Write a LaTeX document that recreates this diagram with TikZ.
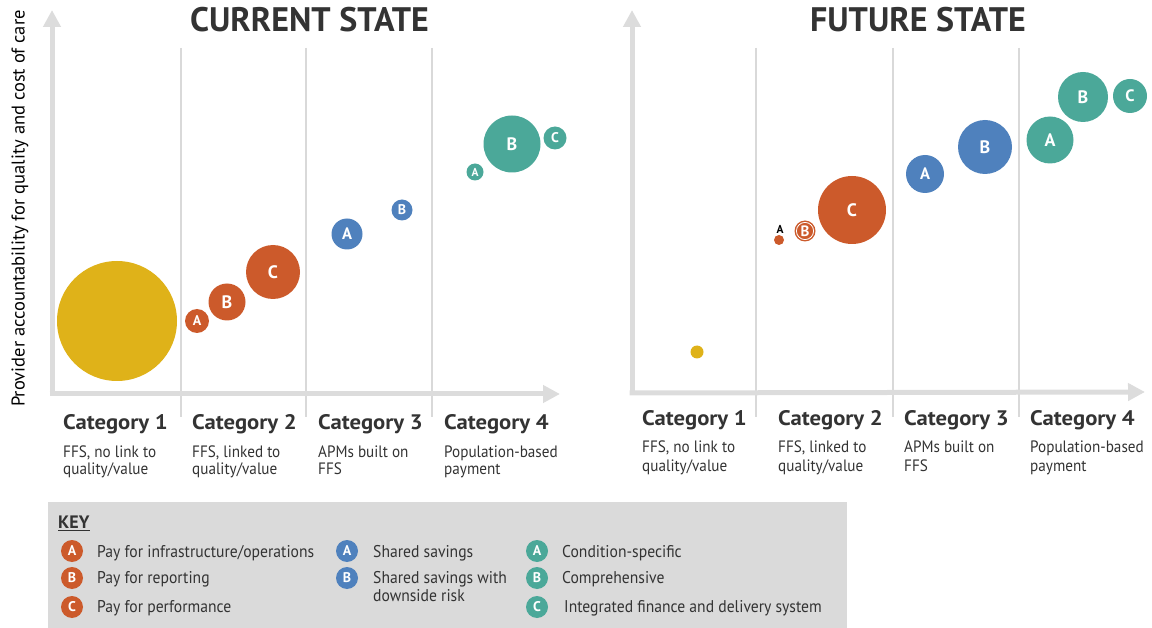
\documentclass[tikz,border=0pt]{standalone}
\usepackage{fontspec}
\setmainfont{PT Sans}[FakeStretch=0.92]
\newfontfamily\plainfont{PT Sans}
\newfontfamily\catfont{PT Sans}[FakeStretch=1.08]
\usetikzlibrary{arrows.meta}
\definecolor{cyellow}{HTML}{DFB219}
\definecolor{corange}{HTML}{CC5A2B}
\definecolor{cblue}{HTML}{4F81BD}
\definecolor{cteal}{HTML}{4BA899}
\definecolor{axisgray}{HTML}{DCDCDC}
\definecolor{gridgray}{HTML}{D9D9D9}
\definecolor{keybg}{HTML}{DADADA}
\definecolor{txt}{HTML}{333333}
\newcommand\fs[1]{\fontsize{#1}{#1}\selectfont}
\begin{document}
\begin{tikzpicture}[x=1pt,y=-1pt,
  bub/.style={circle,inner sep=0pt,text=white,font=\plainfont\bfseries\fs{18}},
  bubm/.style={bub,font=\plainfont\bfseries\fs{16.5}},
  bubs/.style={bub,font=\plainfont\bfseries\fs{14}},
  bubxs/.style={bub,font=\plainfont\bfseries\fs{11.5}},
  axisline/.style={axisgray,line width=5pt,-{Triangle[width=17pt,length=17pt]}},
  gridline/.style={gridgray,line width=1.3pt},
  title/.style={text=txt,font=\plainfont\bfseries\fs{34},anchor=base,inner sep=0pt},
  cat/.style={text=txt,font=\catfont\bfseries\fs{21},anchor=base west,inner sep=0pt},
  desc/.style={text=txt,font=\fs{16.5},anchor=base west,inner sep=0pt},
  keytxt/.style={text=txt,font=\fs{17},anchor=base west,inner sep=0pt},
  keybub/.style={circle,inner sep=0pt,minimum size=22pt,text=white,font=\plainfont\bfseries\fs{14}}]
\useasboundingbox (0,0) rectangle (1152,628);

% ---------- LEFT PANEL ----------
\foreach \gx/\nm in {181/lg1,306/lg2,432/lg3}{
  \coordinate (\nm t) at (\gx,48); \coordinate (\nm b) at (\gx,417);
  \draw[gridline] (\nm t) -- (\nm b);}
\coordinate (lo) at (52,394);
\coordinate (lytip) at (52,10);
\coordinate (lxtip) at (560,394);
\coordinate (lxs) at (49.5,394);
\draw[axisline] (lo) -- (lytip);
\draw[axisline] (lxs) -- (lxtip);

\node[title] (ltitle) at (309.5,32) {CURRENT STATE};
\node[text=black,font=\plainfont\fs{18.5},rotate=90] (ylab) at (20,208.5) {Provider accountability for quality and cost of care};

\node[circle,fill=cyellow,minimum size=120pt,inner sep=0pt] (ly) at (117,321) {};
\node[bubs,fill=corange,minimum size=24pt] (loa) at (197,321) {A};
\node[bub,fill=corange,minimum size=37pt] (lob) at (227,302) {B};
\node[bub,fill=corange,minimum size=54pt] (loc) at (273,272) {C};
\node[bubm,fill=cblue,minimum size=31pt] (lba) at (347,234) {A};
\node[bubs,fill=cblue,minimum size=21pt] (lbb) at (402,210) {B};
\node[bubxs,fill=cteal,minimum size=17pt] (lta) at (475,172) {A};
\node[bub,fill=cteal,minimum size=57pt] (ltb) at (512,144) {B};
\node[bubs,fill=cteal,minimum size=23pt] (ltc) at (555,138) {C};

\node[cat] (lc1) at (63,429) {Category 1};
\node[cat] (lc2) at (192,429) {Category 2};
\node[cat] (lc3) at (318,429) {Category 3};
\node[cat] (lc4) at (444,429) {Category 4};
\node[desc] (ld1a) at (63,457) {FFS, no link to};
\node[desc] (ld1b) at (63,474) {quality/value};
\node[desc] (ld2a) at (192,457) {FFS, linked to};
\node[desc] (ld2b) at (192,474) {quality/value};
\node[desc] (ld3a) at (318,457) {APMs built on};
\node[desc] (ld3b) at (318,474) {FFS};
\node[desc] (ld4a) at (444,457) {Population-based};
\node[desc] (ld4b) at (444,474) {payment};

% ---------- RIGHT PANEL ----------
\foreach \gx/\nm in {756/rg1,893/rg2,1019/rg3}{
  \coordinate (\nm t) at (\gx,48); \coordinate (\nm b) at (\gx,417);
  \draw[gridline] (\nm t) -- (\nm b);}
\coordinate (ro) at (632,393);
\coordinate (rytip) at (632,10);
\coordinate (rxtip) at (1145,392);
\coordinate (rxs) at (629.5,393);
\draw[axisline] (ro) -- (rytip);
\draw[axisline] (rxs) -- (rxtip);

\node[title] (rtitle) at (918,32) {FUTURE STATE};

\node[circle,fill=cyellow,minimum size=13pt,inner sep=0pt] (ry) at (697,352) {};
\node[circle,fill=corange,minimum size=10pt,inner sep=0pt] (roa) at (779,240) {};
\node[text=black,font=\plainfont\bfseries\fs{11.5},inner sep=0pt,anchor=base] (roalab) at (780,234) {A};
\node[bub,fill=corange,minimum size=21pt,font=\plainfont\bfseries\fs{15}] (rob) at (805,231) {B};
\draw[white,line width=0.8pt] (rob.center) circle[radius=8.6pt];
\node[bub,fill=corange,minimum size=68pt] (roc) at (852,210) {C};
\node[bubm,fill=cblue,minimum size=38pt] (rba) at (925,174) {A};
\node[bub,fill=cblue,minimum size=54pt] (rbb) at (985,147) {B};
\node[bub,fill=cteal,minimum size=47pt] (rta) at (1050,140) {A};
\node[bub,fill=cteal,minimum size=50pt] (rtb) at (1083,97) {B};
\node[bubm,fill=cteal,minimum size=34pt] (rtc) at (1130,96) {C};

\node[cat] (rc1) at (642,425) {Category 1};
\node[cat] (rc2) at (778,425) {Category 2};
\node[cat] (rc3) at (904,425) {Category 3};
\node[cat] (rc4) at (1030,425) {Category 4};
\node[desc] (rd1a) at (642,453) {FFS, no link to};
\node[desc] (rd1b) at (642,471) {quality/value};
\node[desc] (rd2a) at (778,453) {FFS, linked to};
\node[desc] (rd2b) at (778,471) {quality/value};
\node[desc] (rd3a) at (904,453) {APMs built on};
\node[desc] (rd3b) at (904,471) {FFS};
\node[desc] (rd4a) at (1030,453) {Population-based};
\node[desc] (rd4b) at (1030,471) {payment};

% ---------- KEY ----------
\fill[keybg] (48,502) rectangle (847,628);
\node[text=txt,font=\plainfont\bfseries\fs{18},anchor=base west,inner sep=0pt] (key) at (58,528) {KEY};
\draw[txt,line width=1pt] ([yshift=-2.5pt]key.base west) -- ([yshift=-2.5pt]key.base east);

\node[keybub,fill=corange] (ka1) at (72,551) {A};
\node[keybub,fill=corange] (ka2) at (72,578) {B};
\node[keybub,fill=corange] (ka3) at (72,607) {C};
\node[keytxt] (kt1) at (97,557) {Pay for infrastructure/operations};
\node[keytxt] (kt2) at (97,583) {Pay for reporting};
\node[keytxt] (kt3) at (97,612) {Pay for performance};

\node[keybub,fill=cblue] (kb1) at (347,551) {A};
\node[keybub,fill=cblue] (kb2) at (347,578) {B};
\node[keytxt] (kt4) at (373,557) {Shared savings};
\node[keytxt] (kt5) at (373,583) {Shared savings with};
\node[keytxt] (kt6) at (373,601) {downside risk};

\node[keybub,fill=cteal] (kc1) at (537,551) {A};
\node[keybub,fill=cteal] (kc2) at (537,578) {B};
\node[keybub,fill=cteal] (kc3) at (537,607) {C};
\node[keytxt] (kt7) at (562,557) {Condition-specific};
\node[keytxt] (kt8) at (562,583) {Comprehensive};
\node[keytxt] (kt9) at (564,612) {Integrated finance and delivery system};
\end{tikzpicture}
\end{document}
